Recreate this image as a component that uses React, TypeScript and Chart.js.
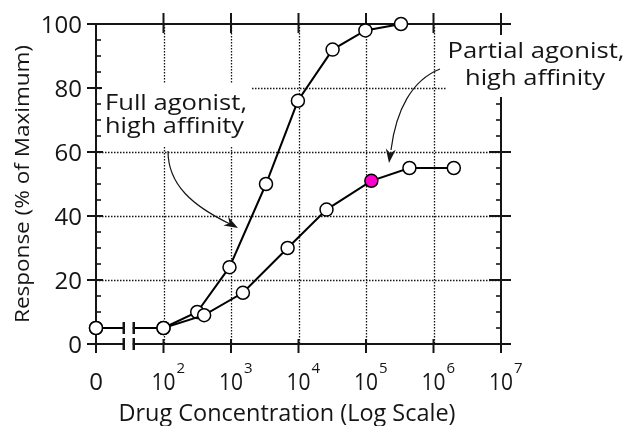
import React, { useEffect, useRef } from 'react';
import { Chart, registerables } from 'chart.js';
Chart.register(...registerables);

// ---- data (concentrations; 0 is drawn at the axis break position) ----
const fullConc = [0, 100, 316, 950, 3300, 9800, 32000, 98000, 330000];
const fullResp = [5, 5, 10, 24, 50, 76, 92, 98, 100];
const partialConc = [0, 100, 400, 1500, 6900, 26000, 120000, 440000, 2000000];
const partialResp = [5, 5, 9, 16, 30, 42, 51, 55, 55];
const partialHighlightIndex = 6;
const ZERO_POSITION = 10; // where concentration 0 sits on the log axis

const xTickExponents = [2, 3, 4, 5, 6, 7];
const yTickValues = [0, 20, 40, 60, 80, 100];
const xGridExponents = [2, 3, 4, 5, 6];
const yGridValues = [20, 40, 60, 80];

const xTitle = 'Drug Concentration (Log Scale)';
const yTitle = 'Response (% of Maximum)';
const fullLabel = ['Full agonist,', 'high affinity'];
const partialLabel = ['Partial agonist,', 'high affinity'];

const FONT = '"Open Sans", "Noto Sans", sans-serif';
const INK = '#151515';

function toX(c: number) {
  return c === 0 ? ZERO_POSITION : c;
}

function drawText(
  ctx: CanvasRenderingContext2D,
  s: string,
  x: number,
  y: number,
  size: number,
  align: CanvasTextAlign,
  targetW?: number,
  rotate?: number
) {
  ctx.save();
  ctx.font = `${size}px ${FONT}`;
  ctx.fillStyle = INK;
  ctx.textAlign = align;
  ctx.textBaseline = 'alphabetic';
  ctx.translate(x, y);
  if (rotate) ctx.rotate(rotate);
  if (targetW) {
    const w = ctx.measureText(s).width;
    ctx.scale(targetW / w, 1);
  }
  ctx.fillText(s, 0, 0);
  ctx.restore();
}

function line(ctx: CanvasRenderingContext2D, x1: number, y1: number, x2: number, y2: number) {
  ctx.beginPath();
  ctx.moveTo(x1, y1);
  ctx.lineTo(x2, y2);
  ctx.stroke();
}

function arrowHead(ctx: CanvasRenderingContext2D, tx: number, ty: number, fx: number, fy: number) {
  const ang = Math.atan2(ty - fy, tx - fx);
  const len = 14;
  const half = 5;
  ctx.beginPath();
  ctx.moveTo(tx, ty);
  ctx.lineTo(tx - len * Math.cos(ang) + half * Math.sin(ang), ty - len * Math.sin(ang) - half * Math.cos(ang));
  ctx.lineTo(tx - len * 0.7 * Math.cos(ang), ty - len * 0.7 * Math.sin(ang));
  ctx.lineTo(tx - len * Math.cos(ang) - half * Math.sin(ang), ty - len * Math.sin(ang) + half * Math.cos(ang));
  ctx.closePath();
  ctx.fill();
}

const decor = {
  id: 'decor',
  beforeDatasetsDraw(chart: any) {
    const { ctx, chartArea: a, scales } = chart;
    const x = scales.x;
    const y = scales.y;
    ctx.save();
    ctx.strokeStyle = INK;
    ctx.fillStyle = INK;

    // dotted grid
    ctx.lineWidth = 1.3;
    ctx.setLineDash([1.5, 1.5]);
    xGridExponents.forEach((e) => {
      const px = Math.round(x.getPixelForValue(10 ** e)) + 0.5;
      line(ctx, px, a.top, px, a.bottom);
    });
    yGridValues.forEach((v) => {
      const py = Math.round(y.getPixelForValue(v)) + 0.5;
      line(ctx, a.left, py, a.right, py);
    });
    ctx.setLineDash([]);

    // frame
    ctx.lineWidth = 2;
    line(ctx, a.left, a.top, a.left, a.bottom);
    line(ctx, a.left - 9, a.top, a.right + 10, a.top);
    line(ctx, a.right, a.top - 11, a.right, a.bottom + 9);
    line(ctx, a.left - 9, a.bottom, a.right, a.bottom);

    // y ticks
    for (let v = 0; v <= 100; v += 5) {
      const py = y.getPixelForValue(v);
      if (v % 20 === 0) {
        line(ctx, a.left - 9, py, a.left + 7, py);
        line(ctx, a.right - 12, py, a.right + 10, py);
      } else {
        ctx.lineWidth = 1.6;
        line(ctx, a.left, py, a.left + 5, py);
        line(ctx, a.right - 5, py, a.right, py);
        ctx.lineWidth = 2;
      }
    }
    // x ticks
    [ZERO_POSITION, ...xTickExponents.map((e) => 10 ** e)].forEach((val) => {
      const px = x.getPixelForValue(val);
      line(ctx, px, a.bottom - 5, px, a.bottom + 9);
    });
    xTickExponents.forEach((e) => {
      const px = x.getPixelForValue(10 ** e);
      line(ctx, px, a.top - 11, px, a.top + 9);
    });

    // annotation boxes (white backgrounds hide grid)
    ctx.fillStyle = '#fff';
    ctx.fillRect(a.left + 6, a.top + 60, 150, 62);
    ctx.fillRect(a.right - 55, a.top + 11, 200, 62);
    ctx.fillStyle = INK;

    // y tick labels
    yTickValues.forEach((v) => {
      const py = y.getPixelForValue(v);
      drawText(ctx, String(v), a.left - 14, py + 8.5, 24, 'right');
    });
    // x tick labels
    drawText(ctx, '0', x.getPixelForValue(ZERO_POSITION), a.bottom + 46, 24, 'center');
    xTickExponents.forEach((e) => {
      const px = x.getPixelForValue(10 ** e);
      drawText(ctx, '10', px, a.bottom + 46, 24, 'center', 24);
      drawText(ctx, String(e), px + 13, a.bottom + 29, 15, 'left');
    });

    // axis titles
    drawText(ctx, xTitle, 287, a.bottom + 77, 24, 'center', 337);
    drawText(ctx, yTitle, 29, 184, 20, 'center', 278, -Math.PI / 2);

    // annotation texts
    drawText(ctx, fullLabel[0], a.left + 9, a.top + 86, 21, 'left', 142);
    drawText(ctx, fullLabel[1], a.left + 9, a.top + 109, 21, 'left', 139);
    drawText(ctx, partialLabel[0], 536, a.top + 34, 22, 'center', 177);
    drawText(ctx, partialLabel[1], 535, a.top + 61, 22, 'center', 140);

    // arrows
    ctx.lineWidth = 1.2;
    ctx.beginPath();
    ctx.moveTo(168, 151);
    ctx.bezierCurveTo(168, 185, 193, 206, 230, 224);
    ctx.stroke();
    arrowHead(ctx, 238, 228, 222, 219);

    ctx.beginPath();
    ctx.moveTo(440, 69);
    ctx.bezierCurveTo(412, 80, 396, 110, 391, 150);
    ctx.stroke();
    arrowHead(ctx, 389, 163, 392, 140);

    ctx.restore();
  },
  afterDatasetsDraw(chart: any) {
    const { ctx, chartArea: a, scales } = chart;
    const x = scales.x;
    const y = scales.y;
    const mid = (x.getPixelForValue(ZERO_POSITION) + x.getPixelForValue(100)) / 2 - 1;
    const lineY = y.getPixelForValue(fullResp[0]);
    ctx.save();
    ctx.fillStyle = '#fff';
    ctx.fillRect(mid - 4, lineY - 9, 8, a.bottom - lineY + 20);
    ctx.strokeStyle = INK;
    ctx.lineWidth = 2.5;
    [mid - 5, mid + 5].forEach((px) => {
      line(ctx, px, a.bottom - 6, px, a.bottom + 6);
      line(ctx, px, lineY - 6, px, lineY + 6);
    });
    ctx.restore();
  },
};

export default function App() {
  const ref = useRef<HTMLCanvasElement>(null);
  useEffect(() => {
    if (!ref.current) return;
    const chart = new Chart(ref.current, {
      type: 'line',
      data: {
        datasets: [
          {
            label: 'Partial agonist',
            data: partialConc.map((c, i) => ({ x: toX(c), y: partialResp[i] })),
            borderColor: '#000',
            borderWidth: 2,
            pointRadius: 6.5,
            pointBorderWidth: 1.5,
            pointBorderColor: '#000',
            pointBackgroundColor: partialConc.map((_, i) => (i === partialHighlightIndex ? '#ff00cc' : '#fff')),
            tension: 0,
            clip: false as any,
          },
          {
            label: 'Full agonist',
            data: fullConc.map((c, i) => ({ x: toX(c), y: fullResp[i] })),
            borderColor: '#000',
            borderWidth: 2,
            pointRadius: 6.5,
            pointBorderWidth: 1.5,
            pointBorderColor: '#000',
            pointBackgroundColor: '#fff',
            tension: 0,
            clip: false as any,
          },
        ],
      },
      options: {
        responsive: false,
        animation: false,
        devicePixelRatio: 1,
        layout: { padding: { left: 96, top: 24, right: 128, bottom: 82 } },
        plugins: { legend: { display: false }, tooltip: { enabled: false } },
        events: [],
        scales: {
          x: { type: 'logarithmic', min: ZERO_POSITION, max: 1e7, display: false },
          y: { type: 'linear', min: 0, max: 100, display: false },
        },
      },
      plugins: [decor],
    });
    return () => chart.destroy();
  }, []);
  return (
    <div style={{ position: 'fixed', left: 0, top: 0, width: 629, height: 426, background: '#fff' }}>
      <canvas ref={ref} width={629} height={426} />
    </div>
  );
}
